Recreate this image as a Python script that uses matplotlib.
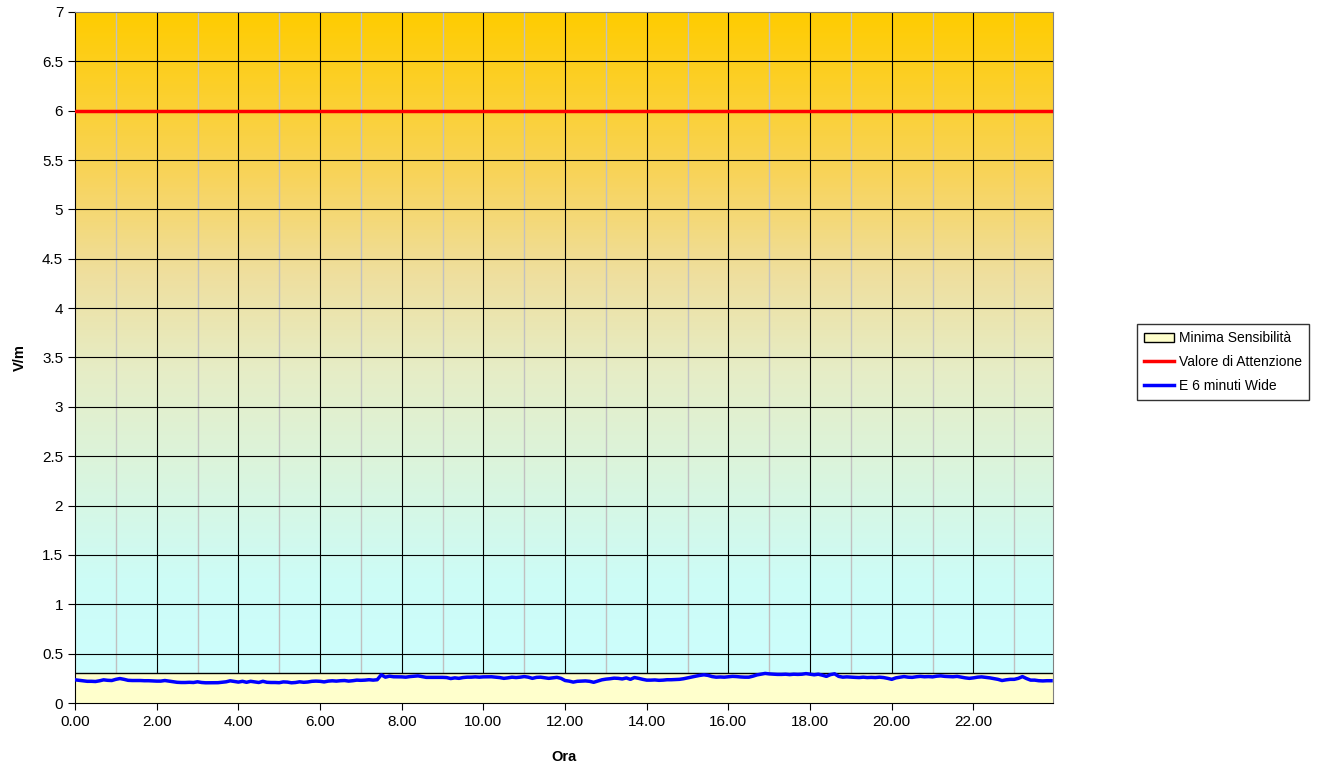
import numpy as np
import matplotlib.pyplot as plt
from matplotlib.colors import LinearSegmentedColormap
from matplotlib.patches import Patch
from matplotlib.lines import Line2D

plt.rcParams['font.family'] = ['Liberation Sans', 'DejaVu Sans']

# E 6 minuti Wide, one value every 6 minutes (10 per hour)
e_wide = [
    0.235, 0.230, 0.225, 0.220, 0.220, 0.218, 0.225, 0.235, 0.230, 0.228,
    0.240, 0.248, 0.240, 0.230, 0.228, 0.228, 0.228, 0.226, 0.226, 0.224,
    0.222, 0.222, 0.228, 0.222, 0.215, 0.210, 0.208, 0.208, 0.210, 0.208,
    0.215, 0.208, 0.205, 0.205, 0.205, 0.206, 0.210, 0.215, 0.225, 0.218,
    0.212, 0.220, 0.210, 0.220, 0.214, 0.208, 0.220, 0.210, 0.208, 0.208,
    0.206, 0.214, 0.212, 0.205, 0.208, 0.215, 0.210, 0.213, 0.220, 0.222,
    0.220, 0.214, 0.222, 0.225, 0.222, 0.226, 0.228, 0.222, 0.226, 0.232,
    0.230, 0.232, 0.236, 0.232, 0.236, 0.286, 0.262, 0.272, 0.266, 0.266,
    0.265, 0.262, 0.268, 0.272, 0.275, 0.268, 0.260, 0.260, 0.260, 0.260,
    0.260, 0.258, 0.248, 0.255, 0.250, 0.258, 0.262, 0.262, 0.265, 0.262,
    0.265, 0.265, 0.266, 0.262, 0.258, 0.250, 0.255, 0.262, 0.258, 0.262,
    0.268, 0.262, 0.250, 0.260, 0.262, 0.256, 0.250, 0.255, 0.260, 0.250,
    0.228, 0.222, 0.212, 0.220, 0.222, 0.224, 0.220, 0.210, 0.222, 0.235,
    0.242, 0.246, 0.252, 0.250, 0.244, 0.254, 0.240, 0.258, 0.250, 0.240,
    0.232, 0.232, 0.234, 0.230, 0.232, 0.236, 0.236, 0.238, 0.240, 0.246,
    0.255, 0.265, 0.272, 0.280, 0.286, 0.280, 0.268, 0.262, 0.264, 0.262,
    0.266, 0.270, 0.268, 0.264, 0.262, 0.262, 0.272, 0.285, 0.292, 0.300,
    0.295, 0.292, 0.290, 0.290, 0.292, 0.288, 0.292, 0.290, 0.292, 0.298,
    0.292, 0.286, 0.292, 0.282, 0.270, 0.288, 0.296, 0.270, 0.262, 0.265,
    0.262, 0.260, 0.258, 0.262, 0.258, 0.260, 0.258, 0.262, 0.258, 0.250,
    0.240, 0.255, 0.262, 0.268, 0.262, 0.260, 0.266, 0.270, 0.266, 0.268,
    0.265, 0.272, 0.275, 0.270, 0.268, 0.266, 0.270, 0.262, 0.255, 0.250,
    0.255, 0.262, 0.265, 0.260, 0.255, 0.248, 0.240, 0.228, 0.235, 0.240,
    0.240, 0.250, 0.268, 0.248, 0.232, 0.232, 0.226, 0.224, 0.226, 0.226,
]
ore = np.arange(len(e_wide)) / 10.0
minima_sensibilita = 0.3
valore_attenzione = 6.0

fig = plt.figure(figsize=(13.42, 7.67), dpi=100)
ax = fig.add_axes([0.0559, 0.0834, 0.7288, 0.901])
x_max = 23.95
ax.set_xlim(0, x_max)
ax.set_ylim(0, 7)

# gradient background (cyan at the bottom, gold at the top)
cmap = LinearSegmentedColormap.from_list('bg', [
    (0.0, '#CCFFFF'), (0.18, '#CDFCF6'), (0.33, '#DAF5DE'), (0.48, '#E6EDC6'),
    (0.62, '#EFDF9E'), (0.76, '#F8D45C'), (1.0, '#FFCC00')])
grad = np.linspace(0, 1, 256).reshape(-1, 1)
ax.imshow(grad, cmap=cmap, origin='lower', aspect='auto',
          extent=[0, x_max, 0, 7], zorder=0)

# grid
for h in range(1, 24, 2):
    ax.axvline(h, color='#C0C0C0', lw=1, zorder=1)
for h in range(2, 24, 2):
    ax.axvline(h, color='black', lw=0.8, zorder=1)
for v in np.arange(0.5, 7, 0.5):
    ax.axhline(v, color='black', lw=0.8, zorder=1)

ax.fill_between([0, x_max], 0, minima_sensibilita, facecolor='#FFFFCC',
                edgecolor='none', zorder=2)
ax.axhline(minima_sensibilita, color='black', lw=1, zorder=2)
ax.axhline(valore_attenzione, color='#FF0000', lw=2.5, zorder=3)
ax.plot(ore, e_wide, color='#0000FF', lw=2.5, zorder=4)

ax.set_xticks(np.arange(0, 24, 2))
ax.set_xticklabels(['%.2f' % t for t in np.arange(0, 24, 2)])
ax.set_yticks(np.arange(0, 7.01, 0.5))
ax.set_yticklabels(['%g' % t for t in np.arange(0, 7.01, 0.5)])
ax.tick_params(labelsize=11, direction='out', length=5, color='black')
ax.set_xlabel('Ora', fontsize=10.5, fontweight='bold', labelpad=15)
ax.set_ylabel('V/m', fontsize=10.5, fontweight='bold', labelpad=11)
for s in ax.spines.values():
    s.set_color('#808080')
ax.spines['bottom'].set_color('black')
ax.spines['left'].set_color('black')

handles = [
    Patch(facecolor='#FFFFCC', edgecolor='black', label='Minima Sensibilità'),
    Line2D([], [], color='#FF0000', lw=2.5, label='Valore di Attenzione'),
    Line2D([], [], color='#0000FF', lw=2.5, label='E 6 minuti Wide'),
]
leg = fig.legend(handles=handles, loc='center left', bbox_to_anchor=(0.842, 0.528),
                 fontsize=10, frameon=True, fancybox=False, edgecolor='black',
                 borderpad=0.5, handlelength=2.2, handletextpad=0.3, labelspacing=0.7)
leg.get_frame().set_linewidth(1)

fig.savefig('out.png', dpi=100)
